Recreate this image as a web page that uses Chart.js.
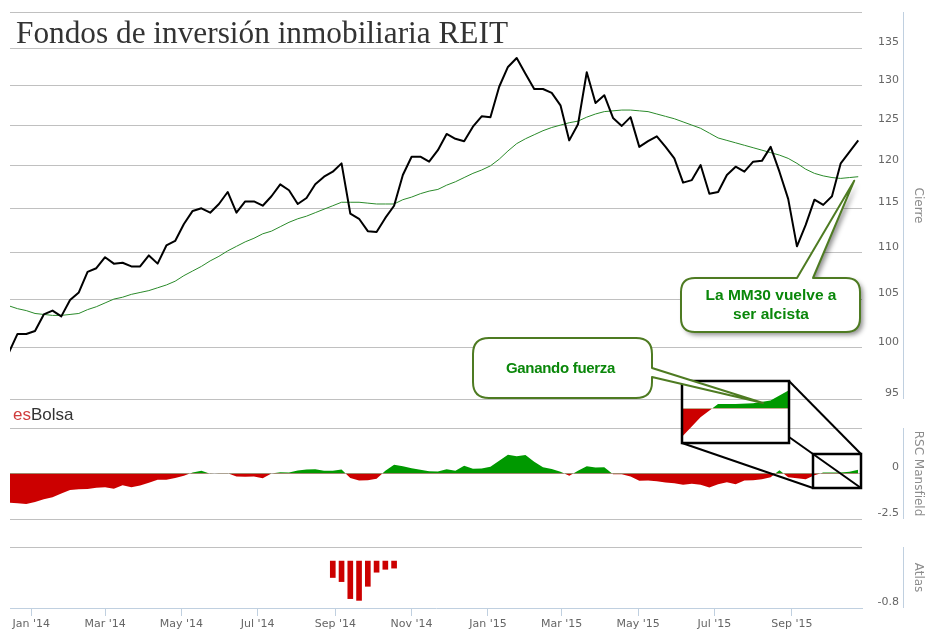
<!DOCTYPE html>
<html lang="es">
<head>
<meta charset="UTF-8" />
<title>Fondos de inversión inmobiliaria REIT</title>
<script src="https://cdn.jsdelivr.net/npm/chart.js"></script>
<style>
  html, body { margin: 0; padding: 0; background: #fff; }
  #wrap { position: relative; width: 930px; height: 640px; overflow: hidden; }
  #wrap canvas { position: absolute; left: 0; top: 0; }
  #wrap #inset { left: 683px; top: 382px; }
  .txt { position: absolute; white-space: nowrap; }
  #title { left: 16px; top: 17px; font: 31.3px/31px "Liberation Serif", "Times New Roman", serif; color: #333; }
  #logo { left: 13px; top: 406px; font: 17px/17px "Liberation Sans", Arial, sans-serif; color: #333; }
  #logo span { color: #d03c3c; }
  .callout { font-family: "Liberation Sans", Arial, sans-serif; font-weight: bold; color: #0a870a; text-align: center; }
  #mm30 { left: 681px; top: 286px; width: 180px; font-size: 15.5px; line-height: 18.5px; }
  #fuerza { left: 471px; top: 360px; width: 179px; font-size: 15px; line-height: 15px; letter-spacing: -0.3px; }
</style>
</head>
<body>
<div id="wrap">
  <canvas id="main" width="930" height="640"></canvas>
  <canvas id="inset" width="105" height="60"></canvas>
  <canvas id="notes" width="930" height="640"></canvas>
  <div class="txt" id="title">Fondos de inversión inmobiliaria REIT</div>
  <div class="txt" id="logo"><span>es</span>Bolsa</div>
  <div class="txt callout" id="mm30">La MM30 vuelve a<br>ser alcista</div>
  <div class="txt callout" id="fuerza">Ganando fuerza</div>
</div>

<script>
  // weekly closes, Dec 2013 - Oct 2015
  const weeks = [
    '2013-12-14','2013-12-21','2013-12-28',
    '2014-01-04','2014-01-11','2014-01-18','2014-01-25',
    '2014-02-01','2014-02-08','2014-02-15','2014-02-22',
    '2014-03-01','2014-03-08','2014-03-15','2014-03-22','2014-03-29',
    '2014-04-05','2014-04-12','2014-04-19','2014-04-26',
    '2014-05-03','2014-05-10','2014-05-17','2014-05-24','2014-05-31',
    '2014-06-07','2014-06-14','2014-06-21','2014-06-28',
    '2014-07-05','2014-07-12','2014-07-19','2014-07-26',
    '2014-08-02','2014-08-09','2014-08-16','2014-08-23','2014-08-30',
    '2014-09-06','2014-09-13','2014-09-20','2014-09-27',
    '2014-10-04','2014-10-11','2014-10-18','2014-10-25',
    '2014-11-01','2014-11-08','2014-11-15','2014-11-22','2014-11-29',
    '2014-12-06','2014-12-13','2014-12-20','2014-12-27',
    '2015-01-03','2015-01-10','2015-01-17','2015-01-24','2015-01-31',
    '2015-02-07','2015-02-14','2015-02-21','2015-02-28',
    '2015-03-07','2015-03-14','2015-03-21','2015-03-28',
    '2015-04-04','2015-04-11','2015-04-18','2015-04-25',
    '2015-05-02','2015-05-09','2015-05-16','2015-05-23','2015-05-30',
    '2015-06-06','2015-06-13','2015-06-20','2015-06-27',
    '2015-07-04','2015-07-11','2015-07-18','2015-07-25',
    '2015-08-01','2015-08-08','2015-08-15','2015-08-22','2015-08-29',
    '2015-09-05','2015-09-12','2015-09-19','2015-09-26',
    '2015-10-03','2015-10-10','2015-10-17','2015-10-24'
  ];

  const cierre = [
    99.5, 101.4, 101.4, 101.7, 103.4, 103.8, 103.2, 104.9, 105.7, 107.9,
    108.3, 109.5, 108.8, 108.9, 108.5, 108.5, 109.7, 108.8, 110.8, 111.3,
    113.2, 114.7, 115.0, 114.5, 115.5, 116.9, 114.5, 115.8, 115.8, 115.3,
    116.4, 117.8, 117.1, 115.5, 116.2, 117.8, 118.7, 119.3, 120.3, 114.4,
    113.8, 112.4, 112.3, 113.9, 115.3, 118.9, 121.1, 121.1, 120.5, 121.9,
    123.9, 123.3, 123.0, 124.8, 126.1, 126.0, 129.9, 132.5, 133.7, 131.6,
    129.6, 129.6, 129.1, 127.5, 123.1, 125.1, 131.8, 127.8, 128.8, 125.9,
    124.9, 126.0, 122.3, 123.0, 123.6, 122.3, 120.9, 118.0, 118.3, 120.1,
    116.7, 116.9, 118.9, 119.9, 119.3, 120.5, 120.6, 122.3, 119.3, 116.1,
    110.7, 113.1, 116.0, 115.4, 116.4, 120.3, 121.7, 123.1
  ];

  const mm30 = [
    104.3, 104.0, 103.8, 103.5, 103.4, 103.3, 103.3, 103.4, 103.5, 103.9,
    104.2, 104.6, 105.0, 105.2, 105.5, 105.7, 105.9, 106.2, 106.5, 106.9,
    107.5, 108.0, 108.5, 109.1, 109.6, 110.2, 110.7, 111.2, 111.6, 112.1,
    112.4, 112.9, 113.4, 113.8, 114.1, 114.5, 114.9, 115.3, 115.7, 115.7,
    115.7, 115.6, 115.5, 115.5, 115.5, 116.0, 116.3, 116.7, 117.0, 117.2,
    117.7, 118.1, 118.6, 119.1, 119.5, 120.0, 120.8, 121.8, 122.7, 123.3,
    123.8, 124.3, 124.7, 125.0, 125.3, 125.5, 126.0, 126.4, 126.7, 126.8,
    126.9, 126.9, 126.8, 126.7, 126.4, 126.1, 125.8, 125.4, 125.0, 124.6,
    124.0, 123.4, 123.1, 122.8, 122.5, 122.2, 121.9, 121.6, 121.3, 120.9,
    120.3, 119.6, 119.1, 118.8, 118.6, 118.5, 118.6, 118.7
  ];

  const rscMansfield = [
    -1.60, -1.63, -1.67, -1.56, -1.42, -1.31, -1.10, -0.90, -0.86, -0.85,
    -0.78, -0.76, -0.84, -0.64, -0.75, -0.66, -0.51, -0.35, -0.35, -0.25,
    -0.13, 0.06, 0.15, -0.02, 0.02, 0.02, -0.16, -0.18, -0.16, -0.26,
    0.00, 0.07, 0.05, 0.17, 0.22, 0.24, 0.15, 0.15, 0.22, -0.25,
    -0.38, -0.37, -0.29, 0.15, 0.48, 0.40, 0.29, 0.20, 0.13, 0.11,
    0.23, 0.15, 0.43, 0.26, 0.27, 0.37, 0.70, 1.03, 0.95, 1.02,
    0.65, 0.35, 0.25, 0.10, -0.13, 0.15, 0.40, 0.33, 0.35, -0.04,
    -0.04, -0.17, -0.40, -0.38, -0.42, -0.49, -0.53, -0.62, -0.57, -0.62,
    -0.77, -0.59, -0.48, -0.59, -0.38, -0.37, -0.32, -0.20, 0.18, -0.20,
    -0.26, -0.31, -0.10, 0.05, 0.05, 0.06, 0.09, 0.20
  ];

  const atlasWeeks = ['2014-08-30','2014-09-06','2014-09-13','2014-09-20','2014-09-27','2014-10-04','2014-10-11','2014-10-18'];
  const atlasValues = [-0.28, -0.35, -0.64, -0.67, -0.43, -0.19, -0.14, -0.12];

  const monthTicks = ['2014-01-01','2014-03-01','2014-05-01','2014-07-01','2014-09-01','2014-11-01',
                      '2015-01-01','2015-03-01','2015-05-01','2015-07-01','2015-09-01'];
  const monthLabels = ["Jan '14","Mar '14","May '14","Jul '14","Sep '14","Nov '14",
                       "Jan '15","Mar '15","May '15","Jul '15","Sep '15"];
  const priceTicks = [95, 100, 105, 110, 115, 120, 125, 130, 135, 140];
  const rscTicks = [-2.5, 0, 2.5];
  const atlasTicks = [-0.8, 0.24];

  const dayOf = d => (Date.parse(d) - Date.parse('2014-01-01')) / 864e5;
  const pts = vals => vals.map((v, i) => ({ x: dayOf(weeks[i]), y: v }));

  const axisFont = { family: '"DejaVu Sans", Verdana, sans-serif', size: 11 };
  const titleFont = { family: '"DejaVu Sans", Verdana, sans-serif', size: 12, weight: 'normal' };
  const gridGray = '#c0c0c0';
  const axisBlue = '#c0d0e0';
  const RED = '#cc0000', GREEN = '#009900';

  const fixedTicks = list => s => { s.ticks = list.map(v => ({ value: v })); };
  // labels end at the right edge of the axis box, titles sit past it
  const axisWidth = s => { s.width = 37; };

  function panelAxis(weight, ticks, title, labelFn, extra) {
    return Object.assign({
      position: 'right', stack: 'panels', stackWeight: weight,
      afterBuildTicks: fixedTicks(ticks),
      afterFit: axisWidth,
      ticks: { autoSkip: false, crossAlign: 'far', padding: 0, labelOffset: -6,
               color: '#666', font: axisFont, callback: labelFn },
      grid: { color: gridGray, drawTicks: false },
      border: { display: false },
      title: { display: true, text: title, color: '#8c8c8c', font: titleFont, padding: { top: -26, bottom: 0 } }
    }, extra);
  }

  function gapAxis(weight) {
    return {
      type: 'linear', position: 'right', stack: 'panels', stackWeight: weight,
      afterFit: axisWidth,
      ticks: { display: false }, grid: { display: false }, border: { display: false }
    };
  }

  // light blue axis lines to the right of the labels
  const axisLines = {
    id: 'axisLines',
    afterDraw(chart) {
      const { ctx, chartArea } = chart;
      ctx.save();
      ctx.strokeStyle = axisBlue;
      ctx.lineWidth = 1;
      ['yP', 'yR', 'yA'].forEach(id => {
        const s = chart.scales[id];
        ctx.beginPath();
        ctx.moveTo(chartArea.right + 41.5, s.top);
        ctx.lineTo(chartArea.right + 41.5, s.bottom);
        ctx.stroke();
      });
      ctx.restore();
    }
  };

  const chart = new Chart(document.getElementById('main'), {
    type: 'line',
    data: {
      datasets: [
        { label: 'Cierre', data: pts(cierre), yAxisID: 'yP', borderColor: '#000', borderWidth: 2,
          pointRadius: 0, fill: false, borderJoinStyle: 'round' },
        { label: 'MM30', data: pts(mm30), yAxisID: 'yP', borderColor: '#2a8a2a', borderWidth: 1,
          pointRadius: 0, fill: false },
        { label: 'RSC Mansfield', data: pts(rscMansfield), yAxisID: 'yR', borderColor: 'rgba(0,0,0,0)',
          borderWidth: 1, pointRadius: 0, fill: { target: 'origin', above: GREEN, below: RED } },
        { type: 'bar', label: 'Atlas', yAxisID: 'yA', backgroundColor: RED, barThickness: 5,
          data: atlasWeeks.map((d, i) => ({ x: dayOf(d), y: atlasValues[i] })) }
      ]
    },
    options: {
      responsive: false,
      animation: false,
      layout: { padding: { left: 10, top: 12, right: 31, bottom: 0 } },
      plugins: { legend: { display: false }, tooltip: { enabled: false } },
      scales: {
        x: {
          type: 'linear', position: 'bottom', offset: false,
          min: dayOf('2013-12-15'), max: dayOf('2015-10-27'),
          afterBuildTicks: s => { s.ticks = monthTicks.map(d => ({ value: dayOf(d) })); },
          afterFit: s => { s.height = 32; },
          ticks: { autoSkip: false, maxRotation: 0, padding: 2, color: '#666', font: axisFont,
                   callback: (v, i) => monthLabels[i] },
          grid: { drawOnChartArea: false, drawTicks: true, tickLength: 8, color: axisBlue, offset: false },
          border: { color: axisBlue }
        },
        yP: panelAxis(387, priceTicks, 'Cierre', v => (v === 140 ? '' : String(v)),
                      { type: 'logarithmic', min: 95, max: 140 }),
        g1: gapAxis(29),
        yR: panelAxis(91, rscTicks, 'RSC Mansfield', v => (v === 2.5 ? '' : String(v)),
                      { type: 'linear', min: -2.5, max: 2.5 }),
        g2: gapAxis(28),
        yA: panelAxis(61, atlasTicks, 'Atlas', v => (v === -0.8 ? '-0.8' : ''),
                      { type: 'linear', min: -0.8, max: 0.24 })
      }
    },
    plugins: [axisLines]
  });
  chart.options.scales.yA.grid.color = c => (c.tick && c.tick.value === -0.8 ? 'rgba(0,0,0,0)' : gridGray);
  chart.update('none');

  // zoomed view of the last weeks of the RSC
  const tail = pts(rscMansfield).slice(91);
  new Chart(document.getElementById('inset'), {
    type: 'line',
    data: { datasets: [{ data: tail, borderColor: 'rgba(0,0,0,0)', borderWidth: 1, pointRadius: 0,
                         fill: { target: 'origin', above: GREEN, below: RED } }] },
    options: {
      responsive: false, animation: false,
      layout: { padding: 0 },
      plugins: { legend: { display: false }, tooltip: { enabled: false } },
      scales: {
        x: { type: 'linear', display: false, min: tail[0].x, max: tail[tail.length - 1].x },
        y: { display: false, min: -0.38, max: 0.30 }
      }
    }
  });

  // callouts and magnifier frame
  const notes = document.getElementById('notes');
  const dpr = window.devicePixelRatio || 1;
  notes.width = 930 * dpr; notes.height = 640 * dpr;
  notes.style.width = '930px'; notes.style.height = '640px';
  const g = notes.getContext('2d');
  g.scale(dpr, dpr);

  function line(x1, y1, x2, y2) { g.beginPath(); g.moveTo(x1, y1); g.lineTo(x2, y2); g.stroke(); }

  g.strokeStyle = '#000';
  g.lineWidth = 2;
  line(789, 381, 861, 454);
  line(789, 437, 861, 488);
  line(682, 443, 813, 488);
  g.lineWidth = 2.5;
  g.strokeRect(682, 381, 107, 62);
  g.strokeRect(813, 454, 48, 34);

  // rounded box with a pointer; side 'top' or 'right'
  function callout(x0, y0, x1, y1, r, side, a, b, tip, shadow) {
    g.beginPath();
    g.moveTo(x0 + r, y0);
    if (side === 'top') { g.lineTo(a, y0); g.lineTo(tip[0], tip[1]); g.lineTo(b, y0); }
    g.lineTo(x1 - r, y0);
    g.quadraticCurveTo(x1, y0, x1, y0 + r);
    if (side === 'right') { g.lineTo(x1, a); g.lineTo(tip[0], tip[1]); g.lineTo(x1, b); }
    g.lineTo(x1, y1 - r);
    g.quadraticCurveTo(x1, y1, x1 - r, y1);
    g.lineTo(x0 + r, y1);
    g.quadraticCurveTo(x0, y1, x0, y1 - r);
    g.lineTo(x0, y0 + r);
    g.quadraticCurveTo(x0, y0, x0 + r, y0);
    g.closePath();
    g.save();
    if (shadow) {
      g.shadowColor = 'rgba(0,0,0,0.45)';
      g.shadowBlur = 5;
      g.shadowOffsetX = 3;
      g.shadowOffsetY = 3;
    }
    g.fillStyle = '#fff';
    g.fill();
    g.restore();
    g.strokeStyle = '#4e7b22';
    g.lineWidth = 2;
    g.lineJoin = 'round';
    g.stroke();
  }

  const last = weeks.length - 1;
  const maTip = [chart.scales.x.getPixelForValue(dayOf(weeks[last])) - 4,
                 chart.scales.yP.getPixelForValue(mm30[last]) + 4];
  callout(681, 278, 860, 332, 14, 'top', 797, 813, maTip, true);
  callout(473, 338, 652, 398, 16, 'right', 368, 377, [763, 403], false);
</script>
</body>
</html>
